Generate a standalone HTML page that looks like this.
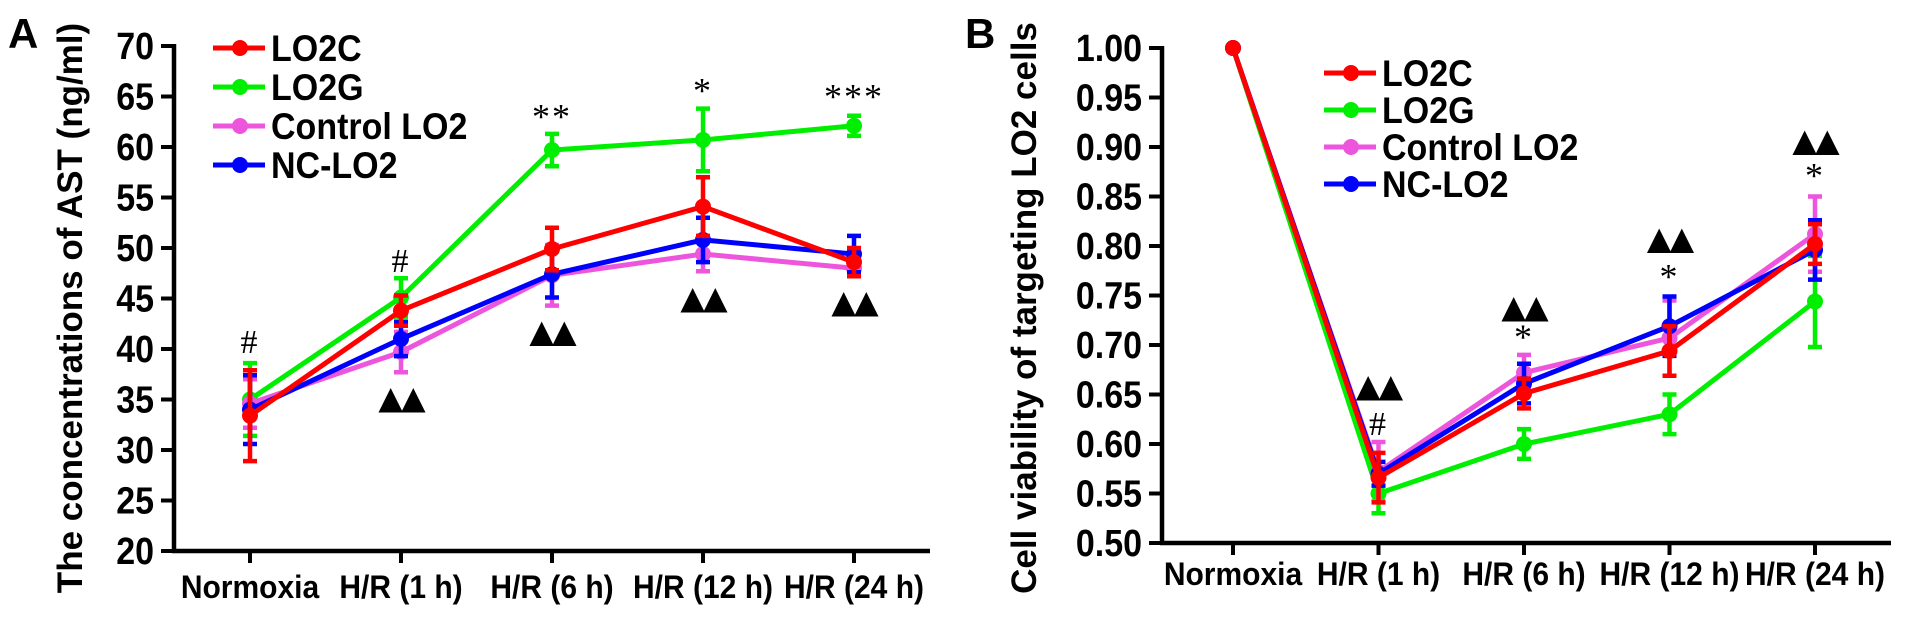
<!DOCTYPE html>
<html><head><meta charset="utf-8"><style>
html,body{margin:0;padding:0;background:#fff;}
svg{display:block;font-family:"Liberation Sans",Arial,sans-serif;}
</style></head><body>
<svg id="chart" width="1913" height="617" viewBox="0 0 1913 617" xmlns="http://www.w3.org/2000/svg">
<text x="8" y="48" font-size="42" font-weight="bold">A</text>
<text x="965" y="48" font-size="42" font-weight="bold">B</text>
<g id="pa"></g>
<g id="pb"></g>
</svg>
<script>
const categories = ["Normoxia","H/R (1 h)","H/R (6 h)","H/R (12 h)","H/R (24 h)"];
const seriesNames = ["LO2C","LO2G","Control LO2","NC-LO2"];
const seriesColors = ["#ff0000","#00ee00","#ee55dd","#0000ff"];
// Panel A values
const aLO2C = [33.4,43.8,49.9,54.1,48.6];
const aLO2G = [35.0,45.1,59.7,60.7,62.1];
const aCtrl = [34.6,39.7,47.3,49.4,48.0];
const aNC = [34.0,41.0,47.4,50.8,49.4];
const aErrLO2C = [4.5,1.5,2.1,2.9,1.4];
const aErrLO2G = [3.6,1.9,1.6,3.1,1.0];
const aErrCtrl = [2.4,2.0,3.0,1.7,0.7];
const aErrNC = [3.4,1.7,2.3,2.2,1.8];
const aTicks = [20,25,30,35,40,45,50,55,60,65,70];
const aAnnot = [["#",0,41.0],["#",1,49.0],["▲▲",1,35.2],["▲▲",2,41.8],["▲▲",3,45.1],["▲▲",4,44.7],["**",2,63.2],["*",3,65.8],["***",4,65.2]];
// Panel B values
const bLO2C = [1.0,0.566,0.651,0.694,0.802];
const bLO2G = [1.0,0.550,0.600,0.630,0.744];
const bCtrl = [1.0,0.572,0.672,0.707,0.812];
const bNC = [1.0,0.570,0.661,0.719,0.796];
const bErrLO2C = [0,0.025,0.015,0.025,0.02];
const bErrLO2G = [0,0.02,0.015,0.02,0.046];
const bErrCtrl = [0,0.03,0.018,0.038,0.038];
const bErrNC = [0,0.012,0.02,0.03,0.03];
const bTicks = [0.50,0.55,0.60,0.65,0.70,0.75,0.80,0.85,0.90,0.95,1.00];
const bAnnot = [["▲▲",1,0.659],["#",1,0.623],["▲▲",2,0.739],["*",2,0.710],["▲▲",3,0.808],["*",3,0.771],["▲▲",4,0.907],["*",4,0.873]];

const NS="http://www.w3.org/2000/svg";
function mk(parent,tag,attrs,text){const e=document.createElementNS(NS,tag);for(const k in attrs)e.setAttribute(k,attrs[k]);if(text!==undefined)e.textContent=text;parent.appendChild(e);return e;}

function drawPanel(g,cfg){
  const y=v=>cfg.y0+(v-cfg.vmin)/(cfg.vmax-cfg.vmin)*(cfg.y1-cfg.y0);
  const x=i=>cfg.x0+i*cfg.dx;
  let ax=mk(g,'line',{x1:cfg.ax,y1:cfg.y1-2,x2:cfg.ax,y2:cfg.y0+2,stroke:'#000','stroke-width':4.5});
  
  
  let bx=mk(g,'line',{x1:cfg.ax-2,y1:cfg.y0,x2:cfg.axEnd,y2:cfg.y0,stroke:'#000','stroke-width':4.5});
  
  
  cfg.ticks.forEach(t=>{
    const tk=mk(g,'line',{x1:cfg.ax-13,y1:y(t),x2:cfg.ax,y2:y(t),stroke:'#000','stroke-width':4});
    
    
    const tl=mk(g,'text',{x:0,y:0,'font-size':34,'font-weight':'bold','text-anchor':'end',transform:`translate(${cfg.ax-20},${y(t)+13}) scale(1,1.12)`},cfg.fmt(t));
    
    
  });
  categories.forEach((c,i)=>{
    const tk=mk(g,'line',{x1:x(i),y1:cfg.y0,x2:x(i),y2:cfg.y0+12,stroke:'#000','stroke-width':4});
    
    
    const tl=mk(g,'text',{x:0,y:0,'font-size':30,'font-weight':'bold','text-anchor':'middle',transform:`translate(${x(i)},${cfg.xLabY}) scale(1,1.08)`},c);
    
    
  });
  const yt=mk(g,'text',{x:0,y:0,'font-size':cfg.ylFont,'font-weight':'bold','text-anchor':'middle',transform:`translate(${cfg.ylX},${cfg.ylY}) rotate(-90)`},cfg.yLabel);
  
  
  const order=[1,2,3,0];
  order.forEach(s=>{
    const vals=cfg.vals[s], errs=cfg.errs[s], col=seriesColors[s];
    const sg=mk(g,'g',{});
    
    
    vals.forEach((v,i)=>{
      if(errs[i]>0){
        const hi=y(v+errs[i]),lo=y(v-errs[i]);
        const eb=mk(sg,'path',{d:`M${x(i)},${hi}V${lo}M${x(i)-7},${hi}H${x(i)+7}M${x(i)-7},${lo}H${x(i)+7}`,stroke:col,'stroke-width':4.5,fill:'none'});
        
        
      }
    });
    const ln=mk(sg,'polyline',{points:vals.map((v,i)=>x(i)+','+y(v)).join(' '),stroke:col,'stroke-width':5,fill:'none'});
    
    
    vals.forEach((v,i)=>{
      const p=mk(sg,'circle',{cx:x(i),cy:y(v),r:8,fill:col});
      
      
    });
  });
  cfg.annot.forEach(a=>{
    const tri=a[0].startsWith('▲');
    const t=mk(g,'text',{x:x(a[1]),y:y(a[2])+(tri?11:14),'font-size':tri?32:(a[0]=='#'?34:36),'text-anchor':'middle','font-family':tri?'"DejaVu Sans",sans-serif':'"Liberation Serif",serif','letter-spacing':tri?'-2':'2'},a[0]);
    
    
  });
  seriesNames.forEach((n,s)=>{
    const ly=cfg.legY+s*cfg.legDy;
    const lg=mk(g,'g',{});
    
    
    mk(lg,'line',{x1:cfg.legX,y1:ly,x2:cfg.legX+52,y2:ly,stroke:seriesColors[s],'stroke-width':5});
    mk(lg,'circle',{cx:cfg.legX+27,cy:ly,r:8,fill:seriesColors[s]});
    mk(lg,'text',{x:0,y:0,'font-size':34,'font-weight':'bold',transform:`translate(${cfg.legX+58},${ly+13}) scale(1,1.1)`},n);
  });
}
drawPanel(document.getElementById('pa'),{ax:174,axEnd:930,x0:250,dx:151,y0:551,y1:46,vmin:20,vmax:70,ticks:aTicks,fmt:t=>String(t),
  vals:[aLO2C,aLO2G,aCtrl,aNC],errs:[aErrLO2C,aErrLO2G,aErrCtrl,aErrNC],annot:aAnnot,xLabY:598,
  yLabel:"The concentrations of AST (ng/ml)",ylX:82,ylY:308,ylFont:35,legX:213,legY:48,legDy:39});
drawPanel(document.getElementById('pb'),{ax:1162,axEnd:1891,x0:1233,dx:145.5,y0:543,y1:48,vmin:0.5,vmax:1.0,ticks:bTicks,fmt:t=>t.toFixed(2),
  vals:[bLO2C,bLO2G,bCtrl,bNC],errs:[bErrLO2C,bErrLO2G,bErrCtrl,bErrNC],annot:bAnnot,xLabY:585,
  yLabel:"Cell viability of targeting LO2 cells",ylX:1036,ylY:308,ylFont:35,legX:1324,legY:73,legDy:37});
</script>
</body></html>
